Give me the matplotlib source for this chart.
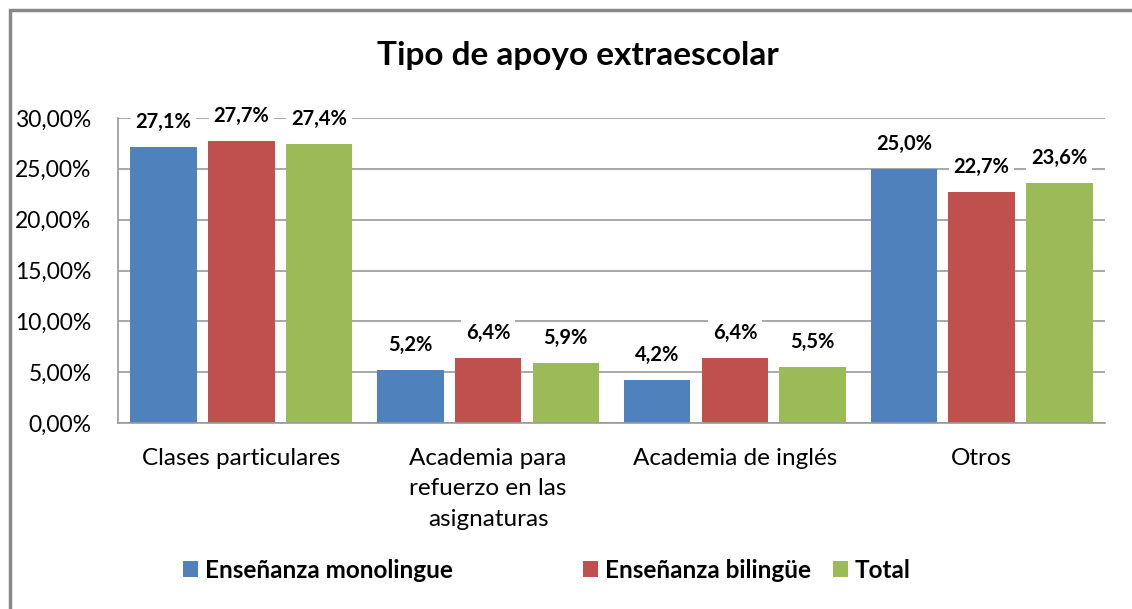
import numpy as np
import matplotlib.pyplot as plt
from matplotlib.patches import Rectangle, Patch

categories = ["Clases particulares", "Academia para\nrefuerzo en las\nasignaturas",
              "Academia de inglés", "Otros"]
series_names = ["Enseñanza monolingue", "Enseñanza bilingüe", "Total"]
monolingue = [27.1, 5.2, 4.2, 25.0]
bilingue = [27.7, 6.4, 6.4, 22.7]
total = [27.4, 5.9, 5.5, 23.6]
colors = ["#4F81BD", "#C0504D", "#9BBB59"]

plt.rcParams['font.family'] = ['Lato', 'DejaVu Sans']

W, H = 1132, 609
fig = plt.figure(figsize=(W / 100, H / 100), dpi=100)
ax = fig.add_axes([118 / W, 1 - 423 / H, 987 / W, 305 / H])

x = np.arange(len(categories))
width = 0.27
offset = 0.315
for i, vals in enumerate([monolingue, bilingue, total]):
    pos = x + (i - 1) * offset
    ax.bar(pos, [v / 100 for v in vals], width=width, color=colors[i], zorder=2)
    for px, v in zip(pos, vals):
        ax.text(px, v / 100 + 0.015, f"{v:.1f}%".replace(".", ","), ha="center", va="bottom",
                fontsize=14.5, fontweight="bold", zorder=3,
                bbox=dict(facecolor="white", edgecolor="none", pad=3.5))

ax.set_xlim(-0.5, 3.5)
ax.set_ylim(0, 0.30)
ax.set_yticks(np.arange(0, 0.31, 0.05))
ax.set_yticklabels([f"{t:.2f}%".replace(".", ",") for t in np.arange(0, 31, 5)], fontsize=16.5)
ax.set_xticks(x)
ax.set_xticklabels(categories, fontsize=17.5, linespacing=1.55, va="top")
ax.tick_params(axis="x", length=0, pad=18)
ax.tick_params(axis="y", length=0, pad=19)
ax.yaxis.grid(True, color="#999999", linewidth=1.2, zorder=0)
ax.set_axisbelow(True)
for s in ["top", "right"]:
    ax.spines[s].set_visible(False)
for s in ["left", "bottom"]:
    ax.spines[s].set_color("#999999")
    ax.spines[s].set_linewidth(1.2)

fig.text(578 / W, 1 - 55 / H, "Tipo de apoyo extraescolar", ha="center", va="center",
         fontsize=24, fontweight="bold")

# legend entries placed like Excel does (equal column widths)
legend_x = [183, 583, 833]
for name, col, lx in zip(series_names, colors, legend_x):
    fig.legend(handles=[Patch(facecolor=col, label=name)], loc="center left",
               bbox_to_anchor=(lx / W, 1 - 570 / H), frameon=False, borderpad=0,
               borderaxespad=0, prop={"weight": "bold", "size": 17.5},
               handlelength=0.6, handleheight=0.6, handletextpad=0.3)

fig.patches.append(Rectangle((9.5 / W, -0.05), 1.0, 1 - 10 / H + 0.05,
                             transform=fig.transFigure, fill=False,
                             edgecolor="#888888", linewidth=2.5))

fig.savefig("out.png", dpi=100)
